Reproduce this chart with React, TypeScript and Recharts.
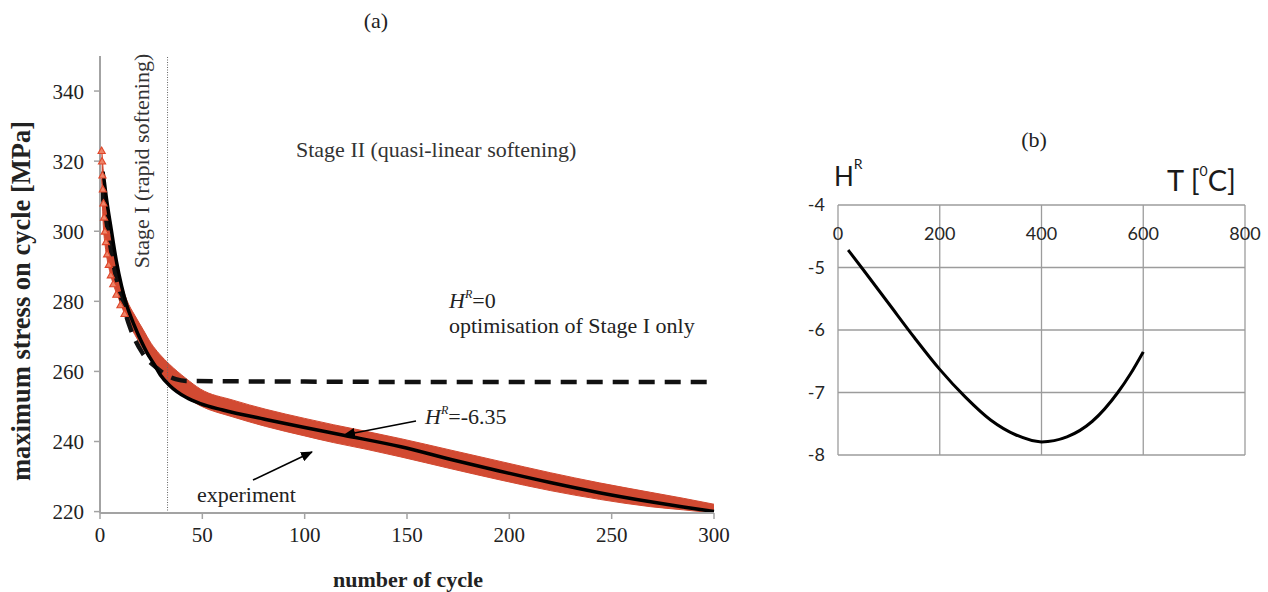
import React from 'react';
import {
  ComposedChart,
  Line,
  Area,
  Scatter,
  XAxis,
  YAxis,
  CartesianGrid,
  ReferenceLine,
} from 'recharts';

// ---- (a) cyclic softening ----
const cycleTicks = [0, 50, 100, 150, 200, 250, 300];
const stressTicks = [220, 240, 260, 280, 300, 320, 340];
const stageBoundary = 33;

// experiment: scatter band (lower / upper edge of the red cloud)
const bandCycle = [0.8, 1.5, 2.5, 3.5, 5, 7, 10, 13, 17, 21, 25, 29, 34, 42, 49, 65, 81, 100, 114, 130, 147, 171, 195, 220, 244, 269, 285, 300];
const bandLow = [315, 303, 296, 292, 288, 284, 279.5, 275, 270.5, 266.5, 263, 260, 255.8, 252.6, 250.2, 247, 244.3, 241.6, 239.7, 237.8, 235.6, 232.3, 229.1, 226, 223.5, 221.4, 220.5, 219.6];
const bandHigh = [324, 318, 311, 306, 299, 293, 286, 280.5, 276, 272, 268, 265, 262, 258, 255, 251.8, 249.2, 246.6, 244.8, 242.9, 240.8, 237.6, 234.4, 231.1, 228.2, 225.5, 223.8, 222.1];

// experiment: single triangles visible in stage I
const triCycle = [0.8, 1.0, 1.2, 1.4, 1.7, 2.0, 2.4, 2.9, 3.5, 4.3, 5.3, 6.5, 8, 10, 12];
const triStress = [323, 320, 316, 312, 308, 304, 300, 297, 293.5, 290.5, 287.5, 285, 282, 279, 276.5];

// model, H^R = -6.35
const fitCycle = [1.5, 3, 5.5, 8, 10.5, 13, 16.5, 20, 23, 26.5, 29.5, 34, 42, 49, 60, 81, 100, 119, 147, 172, 195, 220, 244, 269, 285, 300];
const fitStress = [317, 310, 300.5, 291.5, 284.5, 279, 273.5, 268.8, 265.3, 262, 259, 256, 252.6, 250.8, 249, 246.3, 244, 241.8, 238.5, 234.8, 231.6, 228.3, 225.4, 222.8, 221.3, 220];

// model, H^R = 0 (stage I only)
const flatCycle = [0.8, 3, 5, 7.3, 10.6, 14.7, 21, 27.7, 32.6, 37, 42, 60, 100, 150, 200, 250, 300];
const flatStress = [312, 303.5, 296, 288.5, 280.5, 272.5, 265, 261, 258.9, 257.8, 257.3, 257.2, 257.1, 257, 257, 257, 257];

// ---- (b) H^R vs temperature ----
const tempTicks = [0, 200, 400, 600, 800];
const hrTicks = [-8, -7, -6, -5, -4];
const tempC = [20, 50, 100, 150, 200, 250, 300, 350, 400, 450, 500, 550, 575, 600];
const hrValue = [-4.72, -5.04, -5.58, -6.12, -6.63, -7.07, -7.44, -7.68, -7.79, -7.71, -7.46, -7.0, -6.7, -6.35];

type RowA = { cycle: number; band?: [number, number]; fit?: number; flat?: number };
const rowMap = new Map<number, RowA>();
const rowAt = (c: number) => {
  let r = rowMap.get(c);
  if (!r) {
    r = { cycle: c };
    rowMap.set(c, r);
  }
  return r;
};
bandCycle.forEach((c, i) => (rowAt(c).band = [bandLow[i], bandHigh[i]]));
fitCycle.forEach((c, i) => (rowAt(c).fit = fitStress[i]));
flatCycle.forEach((c, i) => (rowAt(c).flat = flatStress[i]));
const tableA = [...rowMap.values()].sort((a, b) => a.cycle - b.cycle);
const triData = triCycle.map((c, i) => ({ cycle: c, stress: triStress[i] }));
const tableB = tempC.map((t, i) => ({ t, hr: hrValue[i] }));

const RED = '#D24A32';
const SERIF = '"Liberation Serif", "Times New Roman", serif';
const SANS = 'Lato, "Liberation Sans", sans-serif';
const B_TOP = 205; // top of plot (b), page px
const B_XAXIS_H = 30;

function TriangleDot(props: any) {
  const { cx, cy } = props;
  if (cx == null || cy == null) return null;
  const s = 3.6;
  return (
    <polygon
      points={`${cx},${cy - s} ${cx - s},${cy + s * 0.8} ${cx + s},${cy + s * 0.8}`}
      fill="#EE8468"
      stroke="#E0462A"
      strokeWidth={1.1}
    />
  );
}

// tick labels of (b) sit just under the top border, inside the plot
function TopInsideTick(props: any) {
  const { x, payload } = props;
  return (
    <text x={x} y={B_TOP + 35} textAnchor="middle" fontSize={18} fontFamily={SANS} fill="#262626">
      {payload.value}
    </text>
  );
}

export default function App() {
  return (
    <div style={{ position: 'absolute', left: 0, top: 0, width: 1268, height: 592, background: '#fff', overflow: 'hidden' }}>
      <div style={{ position: 'absolute', left: 0, top: 0 }}>
        <ComposedChart width={760} height={592} data={tableA} margin={{ top: 56, right: 46, left: 50, bottom: 49 }}>
          <XAxis
            dataKey="cycle"
            type="number"
            domain={[0, 300]}
            ticks={cycleTicks}
            height={30}
            tickSize={6}
            tickMargin={8}
            axisLine={{ stroke: '#A3A3A3', strokeWidth: 2 }}
            tickLine={{ stroke: '#A3A3A3', strokeWidth: 1.5 }}
            tick={{ fontSize: 21, fill: '#222', fontFamily: SERIF }}
          />
          <YAxis
            type="number"
            domain={[220, 350]}
            ticks={stressTicks}
            width={50}
            tickSize={6}
            tickMargin={10}
            axisLine={{ stroke: '#A3A3A3', strokeWidth: 2 }}
            tickLine={{ stroke: '#A3A3A3', strokeWidth: 1.5 }}
            tick={{ fontSize: 21, fill: '#222', fontFamily: SERIF }}
          />
          <ReferenceLine x={stageBoundary} stroke="#666" strokeWidth={1} strokeDasharray="1 1.5" />
          <Area
            dataKey="band"
            type="monotone"
            stroke={RED}
            strokeWidth={1}
            fill={RED}
            fillOpacity={1}
            connectNulls
            dot={false}
            activeDot={false}
            isAnimationActive={false}
          />
          <Scatter data={triData} dataKey="stress" shape={TriangleDot} isAnimationActive={false} />
          <Line
            dataKey="flat"
            type="monotone"
            stroke="#111"
            strokeWidth={4.5}
            strokeDasharray="16 10"
            dot={false}
            activeDot={false}
            connectNulls
            isAnimationActive={false}
          />
          <Line
            dataKey="fit"
            type="monotone"
            stroke="#000"
            strokeWidth={3.5}
            dot={false}
            activeDot={false}
            connectNulls
            isAnimationActive={false}
          />
        </ComposedChart>
      </div>

      <div style={{ position: 'absolute', left: 760, top: 0 }}>
        <ComposedChart
          width={508}
          height={592}
          data={tableB}
          margin={{ top: B_TOP - B_XAXIS_H, right: 23, left: 38, bottom: 137 }}
        >
          <CartesianGrid stroke="#9C9C9C" strokeWidth={1.3} />
          <XAxis
            dataKey="t"
            type="number"
            orientation="top"
            domain={[0, 800]}
            ticks={tempTicks}
            height={B_XAXIS_H}
            axisLine={false}
            tickLine={false}
            tick={(p: any) => <TopInsideTick {...p} />}
          />
          <YAxis
            type="number"
            domain={[-8, -4]}
            ticks={hrTicks}
            width={40}
            tickSize={0}
            tickMargin={13}
            axisLine={false}
            tickLine={false}
            tick={{ fontSize: 18, fill: '#262626', fontFamily: SANS }}
          />
          <Line dataKey="hr" type="monotone" stroke="#000" strokeWidth={3} dot={false} activeDot={false} isAnimationActive={false} />
        </ComposedChart>
      </div>

      <svg width={1268} height={592} style={{ position: 'absolute', left: 0, top: 0, pointerEvents: 'none' }}>
        <defs>
          <marker id="ah" markerWidth="12" markerHeight="10" refX="11" refY="5" orient="auto" markerUnits="userSpaceOnUse">
            <polygon points="0,0 12,5 0,10" fill="#000" />
          </marker>
        </defs>
        <g fontFamily={SERIF} fill="#222">
          <text x={376} y={28} fontSize={22} textAnchor="middle">(a)</text>
          <text
            x={0}
            y={0}
            fontSize={26.5}
            fontWeight="bold"
            textAnchor="middle"
            transform="translate(30,301) rotate(-90)"
          >
            maximum stress on cycle [MPa]
          </text>
          <text x={408} y={587} fontSize={22} fontWeight="bold" textAnchor="middle">number of cycle</text>
          <text x={0} y={0} fontSize={22} fill="#333" textAnchor="middle" transform="translate(149,161) rotate(-90)">
            Stage I (rapid softening)
          </text>
          <text x={296} y={157} fontSize={22} fill="#333">Stage II (quasi-linear softening)</text>
          <text x={449} y={308} fontSize={22}>
            <tspan fontStyle="italic">H</tspan>
            <tspan fontStyle="italic" fontSize={12} dy={-10}>R</tspan>
            <tspan dy={10}>=0</tspan>
          </text>
          <text x={449} y={333} fontSize={22}>optimisation of Stage I only</text>
          <text x={425} y={424} fontSize={22}>
            <tspan fontStyle="italic">H</tspan>
            <tspan fontStyle="italic" fontSize={12} dy={-10}>R</tspan>
            <tspan dy={10}>=-6.35</tspan>
          </text>
          <text x={197} y={502} fontSize={22}>experiment</text>
        </g>
        <line x1={416} y1={421} x2={344} y2={435} stroke="#000" strokeWidth={1.6} markerEnd="url(#ah)" />
        <line x1={253} y1={480} x2={312} y2={452} stroke="#000" strokeWidth={1.6} markerEnd="url(#ah)" />

        <g fontFamily={SANS} fill="#1a1a1a">
          <text x={1034} y={147} fontSize={22} fontFamily={SERIF} textAnchor="middle" fill="#222">(b)</text>
          <text x={834} y={186} fontSize={26}>
            H<tspan fontSize={14} dy={-17}>R</tspan>
          </text>
          <text x={1167} y={191} fontSize={29}>
            T [<tspan fontSize={14} dy={-15}>0</tspan>
            <tspan dy={15}>C]</tspan>
          </text>
        </g>
      </svg>
    </div>
  );
}
